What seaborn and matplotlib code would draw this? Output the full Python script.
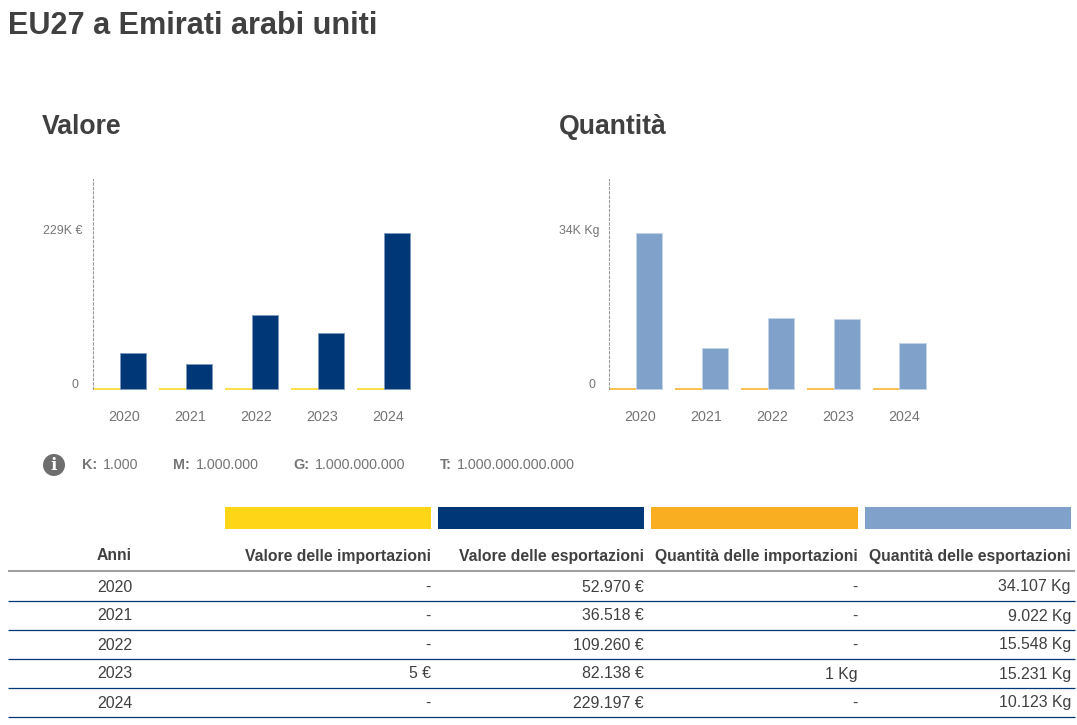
import matplotlib
matplotlib.use("Agg")
import matplotlib.pyplot as plt
from matplotlib.patches import Circle, Rectangle
from matplotlib.transforms import ScaledTranslation
import pandas as pd
import seaborn as sns

anni = ["2020", "2021", "2022", "2023", "2024"]
valore_imp = [0, 0, 0, 5, 0]
valore_exp = [52970, 36518, 109260, 82138, 229197]
quantita_imp = [0, 0, 0, 1, 0]
quantita_exp = [34107, 9022, 15548, 15231, 10123]

colonne = ["Valore delle importazioni", "Valore delle esportazioni",
           "Quantità delle importazioni", "Quantità delle esportazioni"]
note = [("K:", "1.000"), ("M:", "1.000.000"), ("G:", "1.000.000.000"), ("T:", "1.000.000.000.000")]

GIALLO = "#FFD617"
BLU = "#003776"
ARANCIO = "#F9AE21"
AZZURRO = "#80A1C9"
TESTO = "#404040"
GRIGIO = "#757575"
W, H = 1077, 725

sns.set_theme(style="white")
plt.rcParams["font.family"] = ["Liberation Sans", "DejaVu Sans"]

fig = plt.figure(figsize=(W / 100, H / 100), dpi=100, facecolor="white")


def px_axes(left, top, width, height):
    return fig.add_axes([left / W, 1 - (top + height) / H, width / W, height / H])


def draw_chart(left, offset, imp, exp, col_imp, col_exp, edge, label, pad):
    ax = px_axes(left, 179, 330, 210)
    df = pd.DataFrame({
        "anno": anni * 2,
        "valore": imp + exp,
        "flusso": ["imp"] * 5 + ["exp"] * 5,
    })
    sns.barplot(data=df, x="anno", y="valore", hue="flusso", ax=ax, width=0.81, gap=0,
                saturation=1, palette={"imp": col_imp, "exp": col_exp}, legend=False)
    for bar in ax.containers[0]:
        bar.set_edgecolor(col_imp)
        bar.set_linewidth(1.1)
        bar.set_clip_on(False)
    for bar in ax.containers[1]:
        bar.set_edgecolor(edge)
        bar.set_linewidth(0.7)
        bar.set_clip_on(False)

    ax.set_xlim(-offset / 66, 5 - offset / 66)
    ax.set_ylim(0, max(exp) * 210 / 155.7)
    ax.set_xlabel("")
    ax.set_ylabel("")
    ax.set_xticks([i + 4.5 / 66 for i in range(5)], anni)
    ax.set_yticks([0, max(exp)], ["0 ", label])
    ax.tick_params(axis="x", length=0, pad=15, labelsize=10.3, labelcolor=GRIGIO)
    ax.tick_params(axis="y", length=0, pad=pad, labelsize=8.9, labelcolor=GRIGIO)
    for tick, dy in zip(ax.get_yticklabels(), [5.5, 4]):
        shift = ScaledTranslation(0, dy / 100, fig.dpi_scale_trans)
        tick.set_transform(tick.get_transform() + shift)
    for name in ["top", "right", "bottom"]:
        ax.spines[name].set_visible(False)
    ax.spines["left"].set_color("#999999")
    ax.spines["left"].set_linewidth(0.8)
    ax.spines["left"].set_linestyle((0, (2, 2)))
    ax.patch.set_alpha(0)


draw_chart(93, 26.7, valore_imp, valore_exp, GIALLO, BLU, "#7F9BBB", "229K €", 8)
draw_chart(609, 26.5, quantita_imp, quantita_exp, ARANCIO, AZZURRO, "#C4D4E8", "34K Kg", 7)

# strato in pixel per titoli, note e tabella
top = fig.add_axes([0, 0, 1, 1], zorder=-1)
top.set_xlim(0, W)
top.set_ylim(H, 0)
top.axis("off")

top.text(8, 26, "EU27 a Emirati arabi uniti", fontsize=22.1, fontweight="bold", color=TESTO, va="center")
top.text(42, 127, "Valore", fontsize=19.2, fontweight="bold", color=TESTO, va="center")
top.text(559, 127, "Quantità", fontsize=19.2, fontweight="bold", color=TESTO, va="center")

top.add_patch(Circle((54, 465), 11, color="#6E6E6E", lw=0))
top.text(54, 465, "i", fontsize=12, fontweight="bold", color="white", ha="center", va="center",
         family="DejaVu Serif")
for (chiave, numero), x1, x2 in zip(note, [82, 173, 293, 440], [103, 196, 315, 457]):
    top.text(x1, 469, chiave, fontsize=10.4, fontweight="bold", color=GRIGIO, va="baseline")
    top.text(x2, 469, numero, fontsize=10.25, color=GRIGIO, va="baseline")

destra = [431, 644, 858, 1071]
sinistra = [225, 438, 651, 865]
swatch = [GIALLO, BLU, ARANCIO, AZZURRO]
for x, x0, colore, nome in zip(destra, sinistra, swatch, colonne):
    top.add_patch(Rectangle((x0, 507), x - x0, 22, color=colore, lw=0))
    top.text(x, 560.5, nome, fontsize=11.35, fontweight="bold", color=TESTO, ha="right", va="baseline")
top.text(97, 560.5, "Anni", fontsize=11.35, fontweight="bold", color=TESTO, va="baseline")
top.plot([8, 1075], [571, 571], color="#A0A0A0", lw=1.5, solid_capstyle="butt")


def cella(v, unita):
    return f"{v:,} {unita}".replace(",", ".") if v else "-"


righe = [591.5, 620.5, 649.5, 678.5, 707.5]
linee = [600.5, 629.5, 659, 688, 717]
for i, anno in enumerate(anni):
    y = righe[i]
    top.text(97, y, anno, fontsize=11.4, color=TESTO, va="baseline")
    valori = [cella(valore_imp[i], "€"), cella(valore_exp[i], "€"),
              cella(quantita_imp[i], "Kg"), cella(quantita_exp[i], "Kg")]
    for x, testo in zip(destra, valori):
        top.text(x, y, testo, fontsize=11.4, color=TESTO, ha="right", va="baseline")
    top.plot([8, 1075], [linee[i], linee[i]], color=BLU, lw=0.9, solid_capstyle="butt")

fig.savefig("out.png", dpi=100, facecolor="white")
